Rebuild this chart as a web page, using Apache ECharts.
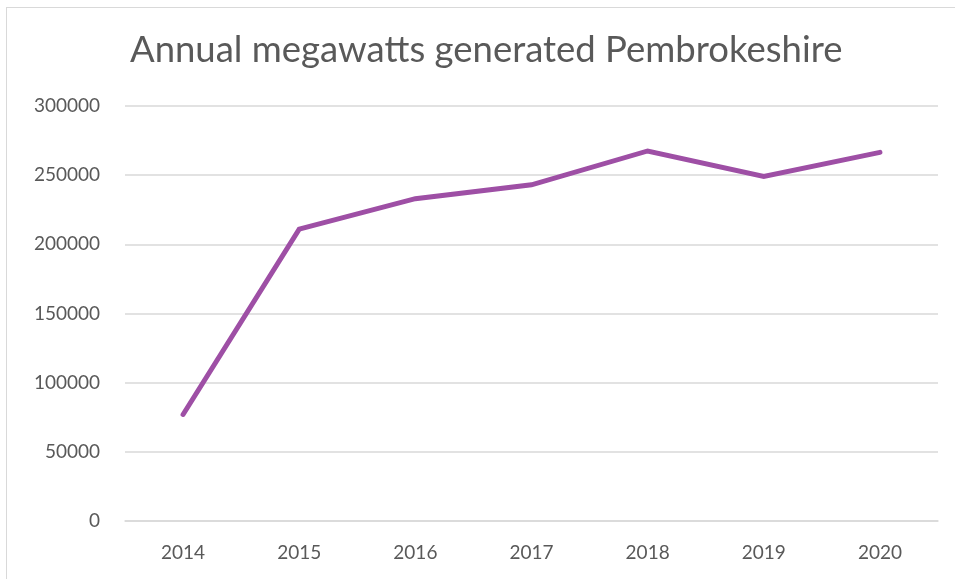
<!DOCTYPE html>
<html>
<head>
<meta charset="utf-8">
<script src="https://cdn.jsdelivr.net/npm/echarts@6/dist/echarts.min.js"></script>
<style>
  html, body { margin: 0; padding: 0; background: #fff; }
  #frame {
    position: absolute; left: 6px; top: 7px; width: 960px; height: 590px;
    border: 1px solid #d9d9d9; box-sizing: border-box;
  }
  #chart { position: absolute; left: 0; top: 0; width: 955px; height: 579px; }
</style>
</head>
<body>
<div id="frame"></div>
<div id="chart"></div>
<script>
// years along the x axis
const years = ['2014', '2015', '2016', '2017', '2018', '2019', '2020'];
// megawatts
const megawatts = [77000, 211000, 233000, 243000, 267500, 249000, 266500];
const yTicks = [0, 50000, 100000, 150000, 200000, 250000, 300000];

const myChart = echarts.init(document.getElementById('chart'));
const font = 'Lato, "Open Sans", sans-serif';

const option = {
  animation: false,
  title: {
    text: 'Annual megawatts generated Pembrokeshire',
    left: 130,
    top: 32,
    padding: 0,
    textStyle: { fontFamily: font, fontSize: 36.5, fontWeight: 'normal', color: '#595959' }
  },
  grid: { left: 125, right: 17, top: 106, bottom: 58 },
  xAxis: {
    type: 'category',
    data: years,
    boundaryGap: true,
    axisLine: { show: true, lineStyle: { color: '#d9d9d9', width: 1.5 } },
    axisTick: { show: false },
    axisLabel: { fontFamily: font, fontSize: 19, color: '#595959', margin: 22 }
  },
  yAxis: {
    type: 'value',
    min: yTicks[0],
    max: yTicks[yTicks.length - 1],
    interval: 50000,
    axisLine: { show: false },
    axisTick: { show: false },
    axisLabel: {
      fontFamily: font, fontSize: 19, color: '#595959', margin: 25,
      formatter: (v) => String(v)
    },
    splitLine: { lineStyle: { color: '#d9d9d9', width: 1.5 } }
  },
  series: [
    {
      name: 'Megawatts',
      type: 'line',
      data: megawatts,
      symbol: 'none',
      lineStyle: { color: '#9e4fa5', width: 5, cap: 'round', join: 'miter' }
    }
  ]
};

myChart.setOption(option, true);
</script>
</body>
</html>
